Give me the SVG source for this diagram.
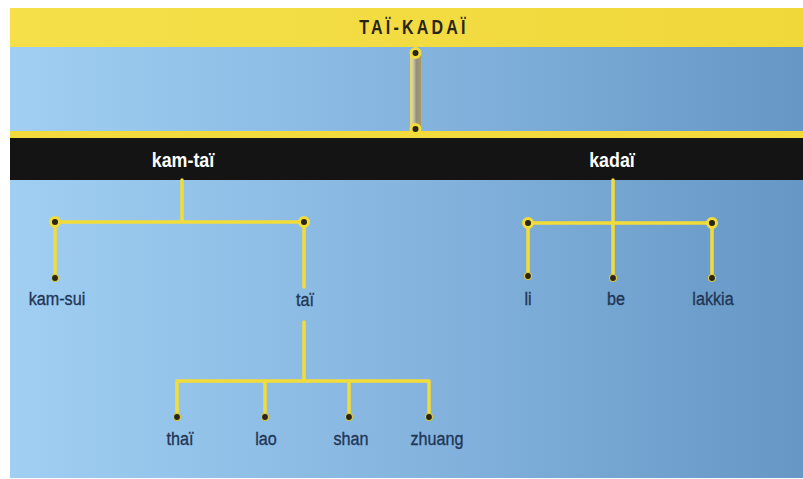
<svg xmlns="http://www.w3.org/2000/svg" width="803" height="479" viewBox="0 0 803 479">
<defs>
<linearGradient id="bg" x1="0" y1="0" x2="1" y2="0">
<stop offset="0" stop-color="#a0cff2"/>
<stop offset="0.5" stop-color="#85b5df"/>
<stop offset="1" stop-color="#6697c5"/>
</linearGradient>
<linearGradient id="pipe" x1="0" y1="0" x2="1" y2="0">
<stop offset="0" stop-color="#efd85a"/>
<stop offset="0.25" stop-color="#d9d2a4"/>
<stop offset="0.6" stop-color="#8e8e86"/>
<stop offset="1" stop-color="#b09c58"/>
</linearGradient>
<linearGradient id="yel" x1="0" y1="0" x2="1" y2="0">
<stop offset="0" stop-color="#f5e04a"/>
<stop offset="1" stop-color="#f0d83a"/>
</linearGradient>
</defs>
<style>
.ln{stroke:#f2dc3a;stroke-width:3.5;fill:none;stroke-linecap:round}
.jd{fill:#2a2418;stroke:#f2dc3a;stroke-width:3}
.lf{fill:#2a2418;stroke:#d8c840;stroke-width:1.2}
.lab{font-family:"Liberation Sans",Arial,sans-serif;font-size:19px;fill:#1f3656;stroke:#1f3656;stroke-width:0.35;text-anchor:middle}
.hd{font-family:"Liberation Sans",Arial,sans-serif;font-size:21px;font-weight:bold;fill:#ffffff;text-anchor:middle}
.ti{font-family:"Liberation Sans",Arial,sans-serif;font-size:20px;font-weight:bold;fill:#2a2418;text-anchor:middle;letter-spacing:4px}
</style>
<rect x="0" y="0" width="803" height="479" fill="#ffffff"/>
<rect x="10" y="8" width="793" height="470" fill="url(#bg)"/>
<g id="root">
<rect x="10" y="8" width="793" height="39" fill="url(#yel)"/>
<text class="ti" transform="translate(414 34) scale(0.8 1)">TAÏ-KADAÏ</text>
</g>
<g id="band">
<rect x="10" y="131" width="793" height="7" fill="#f2da3c"/>
<rect x="10" y="138" width="793" height="42" fill="#141414"/>
</g>
<g id="connectors">
<rect x="410" y="54" width="11" height="76" fill="url(#pipe)"/>
<circle class="jd" cx="415.5" cy="53" r="4.5"/>
<circle class="jd" cx="415.5" cy="129" r="4.5"/>
<path class="ln" d="M182 180V222M55 222H304M55 222V278M304 222V287M304 322V381M177 381H429M177 381V417M265 381V417M349 381V417M429 381V417"/>
<path class="ln" d="M613 180V278M528 223H712M528 223V276M712 223V278"/>
<circle class="jd" cx="55" cy="222" r="4.5"/>
<circle class="jd" cx="304" cy="222" r="4.5"/>
<circle class="jd" cx="528" cy="223" r="4.5"/>
<circle class="jd" cx="712" cy="223" r="4.5"/>
</g>
<g id="kam-tai"><text class="hd" transform="translate(183 167) scale(0.85 1)">kam-taï</text></g>
<g id="kadai"><text class="hd" transform="translate(612 167) scale(0.85 1)">kadaï</text></g>
<g id="kam-sui"><circle class="lf" cx="55" cy="278" r="3.5"/><text class="lab" transform="translate(57 305) scale(0.85 1)">kam-sui</text></g>
<g id="tai"><text class="lab" transform="translate(305 306) scale(0.85 1)">taï</text></g>
<g id="thai"><circle class="lf" cx="177" cy="417" r="3.5"/><text class="lab" transform="translate(180 445) scale(0.85 1)">thaï</text></g>
<g id="lao"><circle class="lf" cx="265" cy="417" r="3.5"/><text class="lab" transform="translate(266 445) scale(0.85 1)">lao</text></g>
<g id="shan"><circle class="lf" cx="349" cy="417" r="3.5"/><text class="lab" transform="translate(351 445) scale(0.85 1)">shan</text></g>
<g id="zhuang"><circle class="lf" cx="429" cy="417" r="3.5"/><text class="lab" transform="translate(437 445) scale(0.85 1)">zhuang</text></g>
<g id="li"><circle class="lf" cx="528" cy="276" r="3.5"/><text class="lab" transform="translate(528 305) scale(0.85 1)">li</text></g>
<g id="be"><circle class="lf" cx="613" cy="278" r="3.5"/><text class="lab" transform="translate(616 305) scale(0.85 1)">be</text></g>
<g id="lakkia"><circle class="lf" cx="712" cy="278" r="3.5"/><text class="lab" transform="translate(713 305) scale(0.85 1)">lakkia</text></g>
</svg>
